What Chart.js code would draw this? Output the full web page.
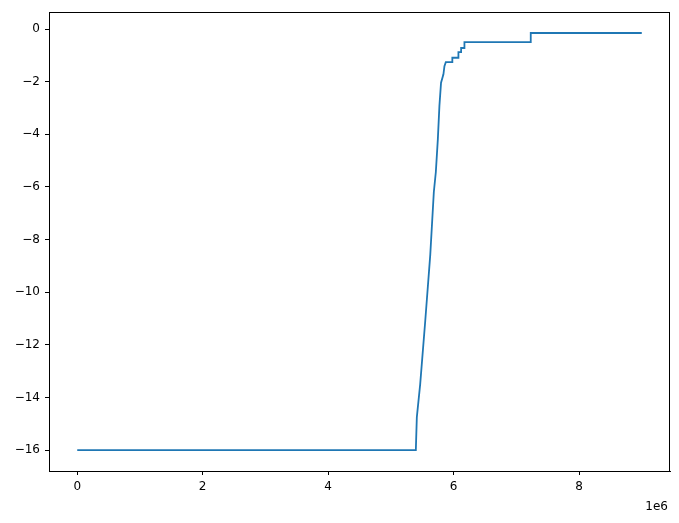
<!DOCTYPE html>
<html>
<head>
<meta charset="utf-8">
<script src="https://cdn.jsdelivr.net/npm/chart.js@4"></script>
<style>
  html, body { margin: 0; padding: 0; background: #fff; }
  canvas { display: block; }
</style>
</head>
<body>
<canvas id="chart" width="679" height="523"></canvas>
<script>
// x in units of 1e6 (offset label drawn at the bottom right)
var xValues = [0, 5.398, 5.414, 5.468, 5.548, 5.628, 5.685, 5.717, 5.749, 5.774, 5.80, 5.838, 5.854, 5.876,
               5.98, 5.98, 6.077, 6.077, 6.12, 6.12, 6.173, 6.173, 7.23, 7.23, 9.00];
var yValues = [-16, -16, -14.74, -13.48, -11.09, -8.58, -6.19, -5.43, -4.18, -2.92, -2.04, -1.72, -1.41, -1.26,
               -1.26, -1.09, -1.09, -0.88, -0.88, -0.72, -0.72, -0.50, -0.50, -0.15, -0.15];
var xTicks = [0, 2, 4, 6, 8];
var yTicks = [0, -2, -4, -6, -8, -10, -12, -14, -16];

var points = [];
for (var i in xValues) {
  points.push({x: xValues[i], y: yValues[i]});
}

var minus = function(v) {
  return v < 0 ? '\u2212' + Math.abs(v) : String(v);
};

// top/right spines and the "1e6" offset text
var frame = {
  id: 'frame',
  afterDraw: function(chart) {
    var ctx = chart.ctx, a = chart.chartArea;
    ctx.save();
    ctx.strokeStyle = '#000';
    ctx.lineWidth = 1;
    ctx.strokeRect(Math.round(a.left) + 0.5, Math.round(a.top) + 0.5,
                   Math.round(a.right - a.left) - 1, Math.round(a.bottom - a.top));
    ctx.fillStyle = '#000';
    ctx.font = '12px "DejaVu Sans"';
    ctx.textAlign = 'right';
    ctx.textBaseline = 'middle';
    ctx.fillText('1e6', a.right - 2, 507);
    ctx.restore();
  }
};

var chart = new Chart(document.getElementById('chart'), {
  type: 'scatter',
  data: {
    datasets: [{
      data: points,
      showLine: true,
      borderColor: '#1f77b4',
      borderWidth: 1.8,
      pointRadius: 0,
      tension: 0
    }]
  },
  options: {
    responsive: false,
    animation: false,
    devicePixelRatio: 1,
    layout: { padding: { top: 9, right: 9, left: 0, bottom: 0 } },
    plugins: {
      legend: { display: false },
      tooltip: { enabled: false }
    },
    scales: {
      x: {
        type: 'linear',
        min: -0.45,
        max: 9.45,
        afterBuildTicks: function(s) { s.ticks = xTicks.map(function(v) { return {value: v}; }); },
        afterFit: function(s) { s.height = 52; },
        ticks: {
          color: '#000',
          font: { family: 'DejaVu Sans', size: 12 },
          padding: 5,
          maxRotation: 0,
          autoSkip: false,
          callback: minus
        },
        grid: { drawOnChartArea: false, tickLength: 4, color: '#000' },
        border: { color: '#000', width: 1 }
      },
      y: {
        min: -16.79,
        max: 0.64,
        afterBuildTicks: function(s) { s.ticks = yTicks.map(function(v) { return {value: v}; }); },
        afterFit: function(s) { s.width = 49; },
        ticks: {
          color: '#000',
          font: { family: 'DejaVu Sans', size: 12 },
          padding: 5,
          autoSkip: false,
          callback: minus
        },
        grid: { drawOnChartArea: false, tickLength: 4, color: '#000' },
        border: { color: '#000', width: 1 }
      }
    }
  },
  plugins: [frame]
});
</script>
</body>
</html>
